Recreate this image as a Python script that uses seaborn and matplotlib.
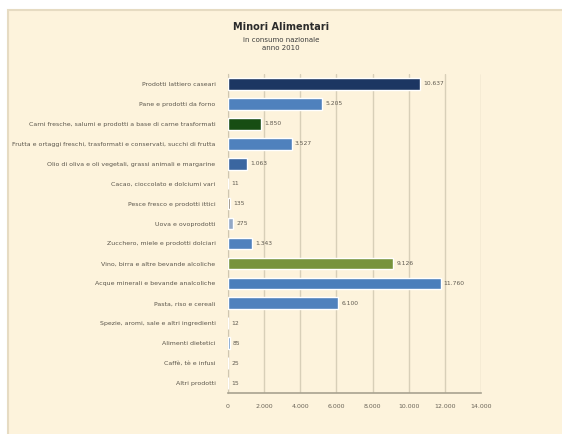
import matplotlib
matplotlib.use("Agg")
import matplotlib.pyplot as plt
import seaborn as sns
import pandas as pd
from matplotlib.patches import Rectangle
from matplotlib.ticker import FuncFormatter

# Categories (top to bottom) and their values
categories = [
    "Prodotti lattiero caseari",
    "Pane e prodotti da forno",
    "Carni fresche, salumi e prodotti a base di carne trasformati",
    "Frutta e ortaggi freschi, trasformati e conservati, succhi di frutta",
    "Olio di oliva e oli vegetali, grassi animali e margarine",
    "Cacao, cioccolato e dolciumi vari",
    "Pesce fresco e prodotti ittici",
    "Uova e ovoprodotti",
    "Zucchero, miele e prodotti dolciari",
    "Vino, birra e altre bevande alcoliche",
    "Acque minerali e bevande analcoliche",
    "Pasta, riso e cereali",
    "Spezie, aromi, sale e altri ingredienti",
    "Alimenti dietetici",
    "Caffè, tè e infusi",
    "Altri prodotti",
]
values = [10637, 5205, 1850, 3527, 1063, 11, 135, 275, 1343, 9126, 11760, 6100, 12, 85, 25, 15]
bar_colors = [
    "#1c3662", "#4f81bd", "#174d13", "#4f81bd", "#3a66a0", "#c3cbe0",
    "#6e6250", "#93a8c6", "#4f81bd", "#77933c", "#4a7ebb", "#4f81bd",
    "#4f81bd", "#4f81bd", "#4f81bd", "#4f81bd",
]
x_ticks = [0, 2000, 4000, 6000, 8000, 10000, 12000, 14000]

title = "Minori Alimentari"
subtitle = "in consumo nazionale\nanno 2010"

df = pd.DataFrame({"categoria": categories, "valore": values})

sns.set_theme(style="white")
plt.rcParams["font.family"] = ["DejaVu Sans"]

fig = plt.figure(figsize=(5.62, 4.34), dpi=100)
fig.patch.set_facecolor("white")

# Chart frame behind everything
bg = fig.add_axes([0, 0, 1, 1], zorder=0)
bg.set_xlim(0, 562)
bg.set_ylim(434, 0)
bg.axis("off")
bg.add_patch(Rectangle((8, 10), 560, 430, facecolor="#fdf3dc",
                       edgecolor="#e6dbc2", linewidth=1.5))

ax = fig.add_axes([228 / 562, 1 - 393 / 434, (481 - 228) / 562, (393 - 74) / 434], zorder=2)
ax.set_facecolor("#fdf3dc")

sns.barplot(data=df, y="categoria", x="valore", hue="categoria",
            palette=bar_colors, saturation=1, legend=False, orient="h",
            width=0.58, ax=ax, zorder=3)

ax.set_xlim(0, 14000)
ax.set_xticks(x_ticks)
ax.xaxis.set_major_formatter(FuncFormatter(lambda v, p: f"{int(v):,}".replace(",", ".")))
ax.tick_params(axis="x", labelsize=4.5, colors="#6a6458", length=0, pad=8)
ax.tick_params(axis="y", labelsize=4.5, colors="#5a554b", length=0, pad=9)
ax.set_xlabel("")
ax.set_ylabel("")

ax.grid(axis="x", color="#d8cfb8", linewidth=1.0, zorder=0)
ax.set_axisbelow(True)
for side in ["top", "right"]:
    ax.spines[side].set_visible(False)
ax.spines["left"].set_color("#cfc6b0")
ax.spines["left"].set_linewidth(0.8)
ax.spines["bottom"].set_color("#a8a290")
ax.spines["bottom"].set_linewidth(1.2)

# Value labels next to each bar
for i, v in enumerate(values):
    ax.text(v + 180, i, f"{v:,}".replace(",", "."), va="center", ha="left",
            fontsize=4.3, color="#5f5a50", zorder=4)

fig.text(0.5, 1 - 27 / 434, title, ha="center", va="center",
         fontsize=7, fontweight="bold", color="#2b2b2b", zorder=5)
fig.text(0.5, 1 - 44 / 434, subtitle, ha="center", va="center",
         fontsize=5, color="#3c3c3c", linespacing=1.2, zorder=5)

fig.savefig("out.png", dpi=100, facecolor=fig.get_facecolor())
